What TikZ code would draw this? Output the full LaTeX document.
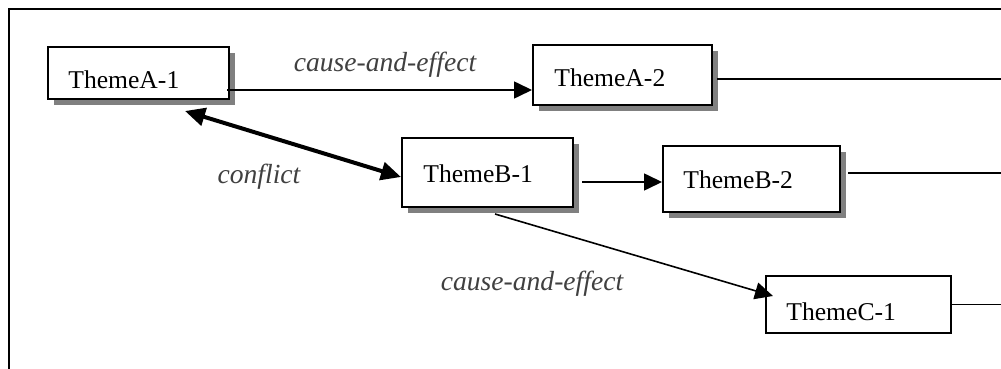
\documentclass[tikz,border=0pt]{standalone}
\usepackage{fontspec}
\setmainfont{Liberation Serif}
\usetikzlibrary{arrows.meta,shadows,calc}
\definecolor{labelgray}{HTML}{404040}
\begin{document}
\begin{tikzpicture}[x=0.5pt,y=-0.5pt,
  box/.style={draw, line width=1pt, fill=white, inner sep=0pt},
  shadowed/.style={drop shadow={shadow xshift=3pt, shadow yshift=-3pt, fill=black!50, opacity=1}},
  themename/.style={font=\fontsize{12.8pt}{15pt}\selectfont, inner sep=0pt, anchor=base west},
  rel/.style={font=\fontsize{13.8pt}{16pt}\selectfont\itshape, text=labelgray, inner sep=0pt, anchor=base},
  link/.style={line width=0.8pt},
  arr/.style={link, -{Triangle[length=9pt,width=8.5pt]}},
  conflictarr/.style={line width=2pt, {Triangle[length=10pt,width=9pt]}-{Triangle[length=10pt,width=9pt]}}]
\useasboundingbox (0,0) rectangle (1001,369);

% open frame: left and top edges only
\draw[line width=1pt] (9,369) -- (9,9) -- (1001,9);

% theme boxes
\node[box, shadowed, minimum width=90.5pt, minimum height=26pt] (a1) at (138.5,73) {};
\node[box, shadowed, minimum width=89.5pt, minimum height=30pt] (a2) at (622.5,75) {};
\node[box, shadowed, minimum width=85.5pt, minimum height=34.5pt] (b1) at (487.5,172.5) {};
\node[box, shadowed, minimum width=88.5pt, minimum height=33pt] (b2) at (751.5,179) {};
\node[box, minimum width=92.5pt, minimum height=28.5pt] (c1) at (858.5,304.5) {};

% box captions
\node[themename] (a1t) at (68,89) {ThemeA-1};
\node[themename] (a2t) at (554,87) {ThemeA-2};
\node[themename] (b1t) at (423,182) {ThemeB-1};
\node[themename] (b2t) at (683,188) {ThemeB-2};
\node[themename] (c1t) at (786,320) {ThemeC-1};

% connectors
\coordinate (s1) at ($(a1.south east)+(-3,-10)$);
\draw[arr] (s1) -- (s1 -| a2.west);

\coordinate (s2) at ($(a2.east)+(4,4)$);
\coordinate (e2) at (1001,79);
\draw[link] (s2) -- (e2);

\coordinate (s3) at ($(b1.east)+(8,9.5)$);
\draw[arr] (s3) -- (s3 -| b2.west);

\coordinate (s4) at ($(b2.east)+(7,-6)$);
\coordinate (e4) at (1001,173);
\draw[link] (s4) -- (e4);

\coordinate (e5) at (1001,304.5);
\draw[link] (c1.east) -- (e5);

\coordinate (s6) at ($(b1.south)+(7.5,6)$);
\coordinate (t6) at ($(c1.west)+(8,-8.5)$);
\draw[arr] (s6) -- (t6);

\coordinate (s7) at ($(a1.south east)+(-45,11)$);
\coordinate (t7) at ($(b1.west)+(0,4.5)$);
\draw[conflictarr] (s7) -- (t7);

% relation labels
\node[rel] (l1) at (385,72) {cause-and-effect};
\node[rel] (l2) at (259,184) {conflict};
\node[rel] (l3) at (532,290) {cause-and-effect};
\end{tikzpicture}
\end{document}
